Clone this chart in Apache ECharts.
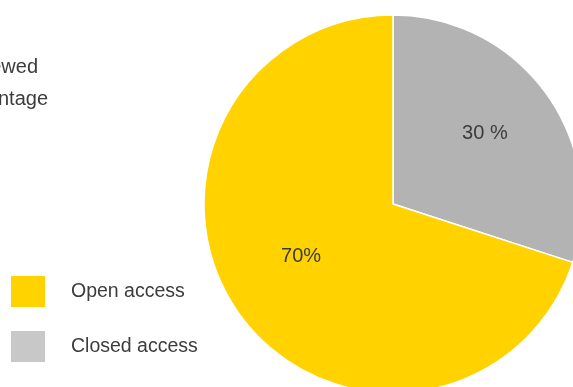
<!DOCTYPE html>
<html>
<head>
<meta charset="utf-8">
<script src="https://cdn.jsdelivr.net/npm/echarts@6/dist/echarts.min.js"></script>
<style>
  html, body { margin: 0; padding: 0; background: #fff; }
  #chart { width: 573px; height: 387px; }
</style>
</head>
<body>
<div id="chart"></div>
<script>
// Share of reviewed papers by access type
const categories = ['Closed access', 'Open access'];
const values = [30, 70];
const labelTexts = ['30 %', '70%'];
const legendOrder = ['Open access', 'Closed access'];
const titleLines = ['Papers reviewed', 'by percentage'];

const sliceColors = ['#B3B3B3', '#FFD200'];
const legendColors = { 'Open access': '#FFD200', 'Closed access': '#C8C8C8' };
const labelOffsets = [[13, -13], [-13, -5]];
const font = '"Liberation Sans", Arial, Helvetica, sans-serif';
const textColor = '#3c3c3c';

const chart = echarts.init(document.getElementById('chart'), null, { renderer: 'canvas' });

chart.setOption({
  animation: false,
  backgroundColor: '#fff',
  graphic: [
    { type: 'text', x: 38, y: 67, style: { text: titleLines[0], textAlign: 'right', textVerticalAlign: 'middle', fontSize: 20, fontFamily: font, fill: textColor } },
    { type: 'text', x: 48, y: 99, style: { text: titleLines[1], textAlign: 'right', textVerticalAlign: 'middle', fontSize: 20, fontFamily: font, fill: textColor } }
  ],
  legend: {
    orient: 'vertical',
    left: 4,
    top: 269,
    icon: 'rect',
    itemWidth: 36,
    itemHeight: 33,
    itemGap: 20,
    selectedMode: false,
    textStyle: { fontSize: 19.5, fontFamily: font, color: textColor, padding: [0, 0, 0, 20] },
    data: legendOrder.map(n => ({ name: n, itemStyle: { color: legendColors[n] } }))
  },
  series: [{
    type: 'pie',
    center: [393, 204],
    radius: 189,
    startAngle: 90,
    clockwise: true,
    avoidLabelOverlap: false,
    emphasis: { disabled: true },
    itemStyle: { borderColor: '#fff', borderWidth: 1.5 },
    label: {
      show: true,
      position: 'inside',
      fontSize: 20,
      fontFamily: font,
      color: textColor
    },
    labelLine: { show: false },
    data: categories.map((c, i) => ({
      name: c,
      value: values[i],
      itemStyle: { color: sliceColors[i] },
      label: { formatter: labelTexts[i], offset: labelOffsets[i] }
    }))
  }]
});
</script>
</body>
</html>
